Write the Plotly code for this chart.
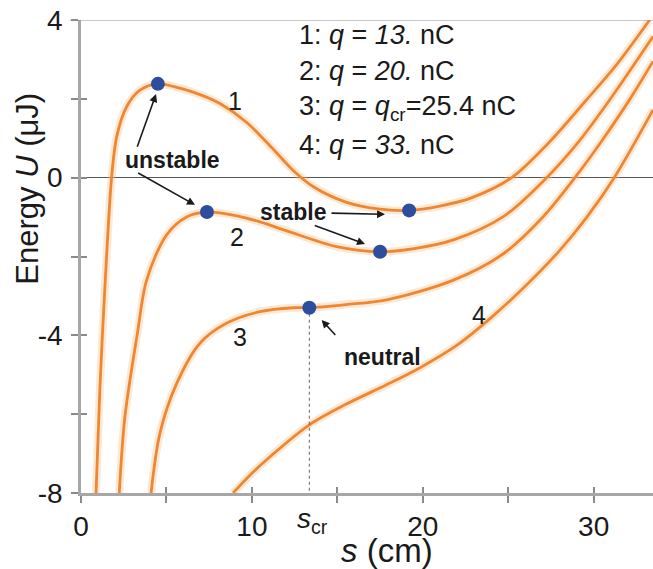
import plotly.graph_objects as go

# ---- data ----
s1 = [0.88, 1.11, 1.40, 1.79, 2.09, 2.67, 3.45, 4.50, 5.79, 7.00, 8.13, 9.70, 11.25, 12.40, 13.60, 15.50, 17.50, 19.20, 21.00, 22.80, 25.20, 27.40, 29.57, 31.40, 33.27]
u1 = [-8.0, -5.30, -2.77, 0.0, 1.04, 1.80, 2.22, 2.38, 2.27, 2.10, 1.88, 1.40, 0.72, 0.19, -0.23, -0.62, -0.80, -0.83, -0.72, -0.52, 0.0, 0.90, 1.97, 2.90, 4.0]

s2 = [2.24, 2.57, 3.30, 3.84, 5.01, 6.18, 7.37, 8.50, 10.47, 12.04, 14.96, 17.50, 19.50, 21.79, 24.71, 27.25, 29.10, 30.93, 33.47]
u2 = [-8.0, -6.06, -3.95, -2.60, -1.45, -1.00, -0.87, -0.92, -1.12, -1.35, -1.75, -1.88, -1.80, -1.58, -0.99, 0.0, 0.90, 1.97, 3.58]

s3 = [4.10, 4.62, 5.60, 6.96, 8.53, 10.47, 12.42, 13.36, 15.50, 17.89, 21.79, 24.71, 27.00, 28.90, 30.50, 32.10, 33.47]
u3 = [-8.0, -6.48, -5.22, -4.20, -3.69, -3.40, -3.30, -3.30, -3.22, -3.10, -2.60, -1.93, -1.01, 0.0, 0.95, 1.98, 2.95]

s4 = [8.90, 10.00, 11.06, 13.36, 15.50, 17.90, 19.84, 22.00, 24.00, 26.00, 28.00, 29.60, 31.20, 33.47]
u4 = [-8.0, -7.50, -7.08, -6.27, -5.75, -5.25, -4.82, -4.25, -3.55, -2.75, -1.85, -1.00, 0.0, 1.72]

dots_s = [4.50, 7.37, 19.20, 17.50, 13.36]
dots_u = [2.38, -0.87, -0.83, -1.88, -3.30]

s_cr = 13.36
u_cr = -3.30

x_ticks = [0, 10, 20, 30]
x_tick_text = ["0", "10", "20", "30"]
y_ticks = [-8, -4, 0, 4]
y_tick_text = ["-8", "-4", "0", "4"]
x_range = [0, 33.47]
y_range = [-8, 4]

curve_names = ["1", "2", "3", "4"]
curve_label_s = [9.00, 9.15, 9.30, 23.30]
curve_label_u = [1.95, -1.50, -4.05, -3.48]

legend_lines = [
    "1: <i>q</i> = <i>13.</i> nC",
    "2: <i>q</i> = <i>20.</i> nC",
    "3: <i>q</i> = <i>q</i><sub>cr</sub>=25.4 nC",
    "4: <i>q</i> = <i>33.</i> nC",
]
legend_u = [3.62, 2.70, 1.78, 0.83]

FONT = "Liberation Sans, Arial, sans-serif"
ORANGE = "#ee8733"
GLOW = "rgba(250,190,130,0.35)"
BLUE = "#2d4d9e"

fig = go.Figure()

curves = [(s1, u1), (s2, u2), (s3, u3), (s4, u4)]
for s, u in curves:
    fig.add_trace(go.Scatter(x=s, y=u, mode="lines",
                             line=dict(color=GLOW, width=8, shape="spline", smoothing=0.9),
                             hoverinfo="skip", showlegend=False))
for s, u in curves:
    fig.add_trace(go.Scatter(x=s, y=u, mode="lines",
                             line=dict(color=ORANGE, width=2.8, shape="spline", smoothing=0.9),
                             showlegend=False))

# dotted critical line
fig.add_trace(go.Scatter(x=[s_cr, s_cr], y=[u_cr, y_range[0]], mode="lines",
                         line=dict(color="#666666", width=1, dash="dot"),
                         showlegend=False, hoverinfo="skip"))

fig.add_trace(go.Scatter(x=dots_s, y=dots_u, mode="markers",
                         marker=dict(color=BLUE, size=14, line=dict(width=0)),
                         showlegend=False))

# overlay axes for crossing ticks
fig.add_trace(go.Scatter(x=[x_range[0]], y=[y_range[0]], xaxis="x2", yaxis="y2",
                         mode="markers", marker=dict(opacity=0), showlegend=False,
                         hoverinfo="skip"))

axis_col = "#a7a7a7"
tick_col = "#8a8a8a"

fig.update_layout(
    width=653, height=569,
    margin=dict(l=81, r=0, t=20, b=76, autoexpand=False),
    paper_bgcolor="white", plot_bgcolor="white",
    font=dict(family=FONT, color="#1a1a1a"),
    xaxis=dict(range=x_range, tickvals=x_ticks, ticktext=x_tick_text, ticks="outside", ticklen=7,
               tickwidth=1.5, tickcolor=tick_col, showline=True, linecolor=axis_col,
               linewidth=2.5, showgrid=False, zeroline=False, automargin=False,
               tickfont=dict(size=28, family=FONT, color="#1a1a1a"),
               minor=dict(dtick=5, ticks="outside", ticklen=7, tickcolor=tick_col, tickwidth=1.5)),
    yaxis=dict(range=y_range, tickvals=y_ticks, ticktext=y_tick_text, ticks="outside", ticklen=7,
               tickwidth=1.5, tickcolor=tick_col, showline=True, linecolor=axis_col,
               linewidth=2.5, showgrid=False, zeroline=True, zerolinecolor="#555555",
               zerolinewidth=1.2, automargin=False, ticklabelstandoff=3,
               tickfont=dict(size=28, family=FONT, color="#1a1a1a"),
               minor=dict(dtick=2, ticks="outside", ticklen=7, tickcolor=tick_col, tickwidth=1.5)),
    xaxis2=dict(overlaying="x", range=x_range, tickvals=x_ticks, ticks="inside", ticklen=6,
                tickwidth=1.5, tickcolor=tick_col, showticklabels=False, showline=False,
                showgrid=False, zeroline=False, automargin=False,
                minor=dict(dtick=5, ticks="inside", ticklen=6, tickcolor=tick_col, tickwidth=1.5)),
    yaxis2=dict(overlaying="y", range=y_range, tickvals=y_ticks, ticks="inside", ticklen=6,
                tickwidth=1.5, tickcolor=tick_col, showticklabels=False, showline=False,
                showgrid=False, zeroline=False, automargin=False,
                minor=dict(dtick=2, ticks="inside", ticklen=6, tickcolor=tick_col, tickwidth=1.5)),
)

# top frame line
fig.add_shape(type="line", xref="paper", yref="y", x0=-0.02, x1=1, y0=y_range[1], y1=y_range[1],
              line=dict(color="#8f8f8f", width=1.2))

ann = []
# axis titles
ann.append(dict(text="Energy <i>U</i> (μJ)", xref="paper", yref="paper", x=-0.093, y=0.643,
                textangle=-90, showarrow=False, font=dict(size=31, family=FONT),
                xanchor="center", yanchor="middle"))
ann.append(dict(text="<i>s</i> (cm)", xref="paper", yref="paper", x=0.535, y=-0.121,
                showarrow=False, font=dict(size=33, family=FONT), xanchor="center", yanchor="middle"))
ann.append(dict(text="<i>s</i><sub>cr</sub>", xref="x", yref="paper", x=s_cr + 0.2, y=-0.058,
                showarrow=False, font=dict(size=28, family=FONT), xanchor="center", yanchor="middle"))

# legend-like text block
for line, uu in zip(legend_lines, legend_u):
    ann.append(dict(text=line, xref="x", yref="y", x=12.64, y=uu, showarrow=False,
                    xanchor="left", yanchor="middle", font=dict(size=27, family=FONT)))

# curve number labels
for name, ls, lu in zip(curve_names, curve_label_s, curve_label_u):
    ann.append(dict(text=name, xref="x", yref="y", x=ls, y=lu, showarrow=False,
                    font=dict(size=25, family=FONT), xanchor="center", yanchor="middle"))

# bold labels
ann.append(dict(text="<b>unstable</b>", xref="x", yref="y", x=5.38, y=0.45, showarrow=False,
                font=dict(size=23, family=FONT), xanchor="center", yanchor="middle"))
ann.append(dict(text="<b>stable</b>", xref="x", yref="y", x=12.42, y=-0.86, showarrow=False,
                font=dict(size=23, family=FONT), xanchor="center", yanchor="middle"))
ann.append(dict(text="<b>neutral</b>", xref="x", yref="y", x=17.63, y=-4.54, showarrow=False,
                font=dict(size=23, family=FONT), xanchor="center", yanchor="middle"))

# arrows (head x,y ; tail ax,ay)
arrows = [
    (4.39, 2.12, 3.26, 0.745),
    (6.67, -0.69, 3.26, 0.14),
    (17.79, -0.93, 14.57, -0.90),
    (16.62, -1.68, 13.59, -1.20),
    (14.08, -3.61, 14.96, -4.03),
]
for hx, hy, tx, ty in arrows:
    ann.append(dict(text="", x=hx, y=hy, ax=tx, ay=ty, xref="x", yref="y",
                    axref="x", ayref="y", showarrow=True, arrowhead=2, arrowsize=1,
                    arrowwidth=1.6, arrowcolor="#1a1a1a", standoff=0, startstandoff=0))

fig.update_layout(annotations=ann)

fig.write_html("out.html", config={"displayModeBar": False},
               post_script="document.body.style.margin='0px';document.body.style.padding='0px';")
